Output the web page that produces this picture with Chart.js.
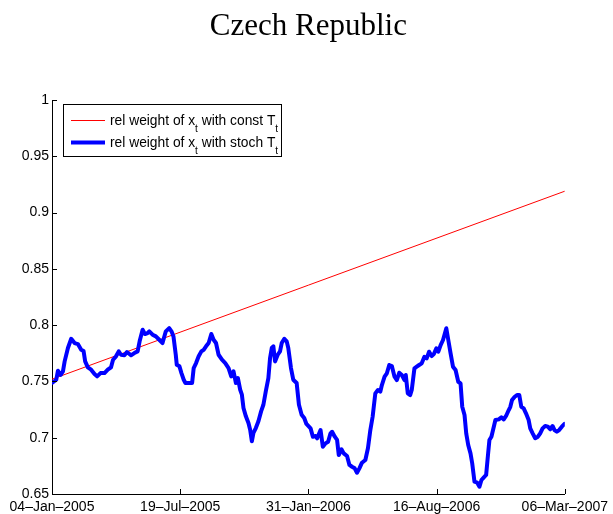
<!DOCTYPE html>
<html><head><meta charset="utf-8">
<script src="https://cdn.jsdelivr.net/npm/chart.js@4/dist/chart.umd.min.js"></script>
<style>html,body{margin:0;padding:0;background:#fff;}#wrap{width:613px;height:514px;}</style>
</head><body><div id="wrap"><canvas id="c" width="613" height="514"></canvas></div>
<script>
// ---- data (x = observation index along the sample, y = relative weight) ----
const obsIndex = [0,4.3,6,8.7,11,12.7,16,19.3,22.7,26,29.3,31.7,33.3,36,39.3,42.7,45.3,48.7,52.7,56,59.3,61.3,64.3,67,69.3,72.7,75.3,79.3,82.7,86,88,91,93.3,96,97.7,101,104.3,107.7,111,114.3,117.7,120,122,124.3,125.3,128,130,132.3,134,137.3,140.7,142.3,144.7,147.3,150,152.3,154.7,157.3,160,162.3,164.7,167.3,170.7,174,177.3,180,182.3,184.7,186.7,189,190.7,192.3,194.7,197.3,199,200.7,202.3,204.7,207.3,210,212.3,214.7,217.3,219,220.7,222.3,224,226.7,229,230.7,233.3,235.7,237.3,240,242.3,245.7,248,250.7,253.3,255.5,259.7,262,264.7,266.3,269.7,272,274.7,277.3,279.7,281.3,284,286.3,288,290.7,293,296.3,298.7,301.3,304,306.3,308.7,311.3,314.7,317.3,319.7,322,324.7,327.3,329.7,331.3,334,336.3,338.7,341.3,344,346.3,348.7,351.3,354,355.3,357.3,359.7,361.3,364,366.3,368.7,371.3,374,376.3,378.7,381.3,383.5,386,388,390.3,392.7,396,398,400.3,402.7,405.3,408,410.3,412,414.3,416,418,420.3,422,424.3,427,429.3,431.3,433.7,436,438,439.3,441.3,443.7,445.3,448.7,451.3,453.7,456,458.7,460.3,462,464.7,467,469.3,471.3,473.7,476,478.7,480.3,482.7,485.3,488,490.3,492.7,495.3,498,500.3,502.7,504.7,507,509.3,512,514.7];
const stochWeight = [0.7486,0.7515,0.7595,0.7559,0.7590,0.7678,0.7797,0.7879,0.7841,0.7832,0.7781,0.7770,0.7678,0.7625,0.7604,0.7566,0.7545,0.7574,0.7574,0.7604,0.7625,0.7693,0.7723,0.7767,0.7737,0.7732,0.7761,0.7732,0.7752,0.7767,0.7856,0.7959,0.7921,0.7930,0.7945,0.7915,0.7900,0.7870,0.7841,0.7945,0.7974,0.7945,0.7900,0.7737,0.7648,0.7634,0.7574,0.7515,0.7486,0.7486,0.7486,0.7619,0.7663,0.7723,0.7767,0.7781,0.7812,0.7841,0.7921,0.7870,0.7841,0.7737,0.7693,0.7663,0.7619,0.7545,0.7590,0.7486,0.7530,0.7426,0.7382,0.7264,0.7190,0.7130,0.7071,0.6968,0.7042,0.7086,0.7146,0.7234,0.7293,0.7412,0.7530,0.7708,0.7797,0.7812,0.7678,0.7737,0.7767,0.7841,0.7879,0.7856,0.7797,0.7619,0.7515,0.7486,0.7293,0.7204,0.7175,0.7122,0.7083,0.7009,0.7015,0.6995,0.7068,0.6920,0.6950,0.6964,0.7039,0.7053,0.7009,0.6980,0.6846,0.6897,0.6861,0.6837,0.6758,0.6742,0.6728,0.6689,0.6728,0.6778,0.6802,0.6906,0.7068,0.7186,0.7394,0.7424,0.7409,0.7468,0.7542,0.7572,0.7646,0.7637,0.7542,0.7512,0.7577,0.7557,0.7512,0.7557,0.7394,0.7379,0.7424,0.7616,0.7631,0.7646,0.7661,0.7719,0.7705,0.7764,0.7725,0.7743,0.7794,0.7764,0.7823,0.7868,0.7972,0.7868,0.7749,0.7631,0.7601,0.7497,0.7483,0.7275,0.7202,0.7039,0.6935,0.6861,0.6773,0.6609,0.6600,0.6565,0.6624,0.6648,0.6669,0.6861,0.6980,0.7009,0.7098,0.7157,0.7163,0.7181,0.7163,0.7193,0.7246,0.7275,0.7335,0.7364,0.7379,0.7379,0.7275,0.7261,0.7217,0.7157,0.7083,0.7039,0.6995,0.7009,0.7039,0.7083,0.7104,0.7098,0.7075,0.7104,0.7068,0.7053,0.7068,0.7098,0.7122];
const constIndex = [0, 515];
const constWeight = [0.752, 0.919];
const xTickPos = [0, 128.75, 257.5, 386.25, 515];
const xTickLabels = ['04\u2013Jan\u20132005','19\u2013Jul\u20132005','31\u2013Jan\u20132006','16\u2013Aug\u20132006','06\u2013Mar\u20132007'];
const yTickVals = [0.65,0.7,0.75,0.8,0.85,0.9,0.95,1];
const yTickLabels = ['0.65','0.7','0.75','0.8','0.85','0.9','0.95','1'];
const seriesNames = [['rel weight of x','t',' with const T','t'],['rel weight of x','t',' with stoch T','t']];

const SANS = '"Liberation Sans", Arial, Helvetica, sans-serif';

const innerTicks = {
  id:'innerTicks',
  afterDraw(chart){
    const ctx = chart.ctx, a = chart.chartArea, xs = chart.scales.x, ys = chart.scales.y;
    ctx.save(); ctx.strokeStyle='#000'; ctx.lineWidth=1; ctx.beginPath();
    xTickPos.forEach(v=>{ const px=Math.round(xs.getPixelForValue(v))+0.5; ctx.moveTo(px,a.bottom); ctx.lineTo(px,a.bottom-5); });
    yTickVals.forEach(v=>{ const py=Math.round(ys.getPixelForValue(v))+0.5; ctx.moveTo(a.left,py); ctx.lineTo(a.left+5,py); });
    ctx.stroke(); ctx.restore();
  }
};

const subLegend = {
  id:'subLegend',
  afterDraw(chart){
    const ctx = chart.ctx;
    const ds = chart.data.datasets;
    const bx=63.5, by=104.5, bw=218, bh=52;
    ctx.save();
    ctx.fillStyle='#fff'; ctx.fillRect(bx,by,bw,bh);
    ctx.strokeStyle='#000'; ctx.lineWidth=1; ctx.strokeRect(bx,by,bw,bh);
    const rows=[{y:120.5,base:125},{y:142.5,base:147}];
    rows.forEach((r,i)=>{
      ctx.strokeStyle=ds[i].borderColor; ctx.lineWidth=ds[i].borderWidth;
      ctx.beginPath(); ctx.moveTo(71,r.y); ctx.lineTo(105,r.y); ctx.stroke();
      let x=110; ctx.fillStyle='#000'; ctx.textBaseline='alphabetic'; ctx.textAlign='left';
      seriesNames[i].forEach((s,k)=>{
        const sub = k%2===1;
        ctx.font = (sub? '10px ':'13.8px ')+SANS;
        ctx.fillText(s,x,r.base+(sub?6.5:0));
        x += ctx.measureText(s).width;
      });
    });
    ctx.restore();
  }
};

new Chart(document.getElementById('c').getContext('2d'), {
  type:'line',
  data:{datasets:[
    {label:seriesNames[0].join(''), data:constIndex.map((x,i)=>({x:x,y:constWeight[i]})), borderColor:'#ff0000', borderWidth:1, pointRadius:0, tension:0, order:1},
    {label:seriesNames[1].join(''), data:obsIndex.map((x,i)=>({x:x,y:stochWeight[i]})), borderColor:'#0000ff', borderWidth:4, pointRadius:0, tension:0, borderJoinStyle:'round', borderCapStyle:'round', order:0}
  ]},
  options:{
    responsive:false, animation:false, devicePixelRatio:1,
    layout:{padding:{top:0,left:0,right:46,bottom:0}},
    plugins:{
      legend:{display:false}, tooltip:{enabled:false},
      title:{display:true, text:'Czech Republic', fullSize:false, color:'#000',
        font:{family:'"Liberation Serif", "Times New Roman", serif', size:31, weight:'normal'},
        padding:{top:8,bottom:54.8}}
    },
    scales:{
      x:{type:'linear', min:0, max:515,
        grid:{display:false, drawTicks:false},
        border:{display:true,color:'#000',width:1},
        afterBuildTicks:(s)=>{ s.ticks = xTickPos.map(v=>({value:v})); },
        afterFit:(s)=>{ s.height=20; },
        ticks:{autoSkip:false, maxRotation:0, minRotation:0, padding:5, color:'#000',
          font:{family:SANS,size:14}, callback:(v,i)=>xTickLabels[i]}},
      y:{type:'linear', min:0.65, max:1,
        grid:{display:false, drawTicks:false},
        border:{display:true,color:'#000',width:1},
        afterBuildTicks:(s)=>{ s.ticks = yTickVals.map(v=>({value:v})); },
        afterFit:(s)=>{ s.width=52; },
        ticks:{autoSkip:false, padding:3, color:'#000',
          font:{family:SANS,size:14}, callback:(v,i)=>yTickLabels[i]}}
    }
  },
  plugins:[innerTicks, subLegend]
});
</script></body></html>
